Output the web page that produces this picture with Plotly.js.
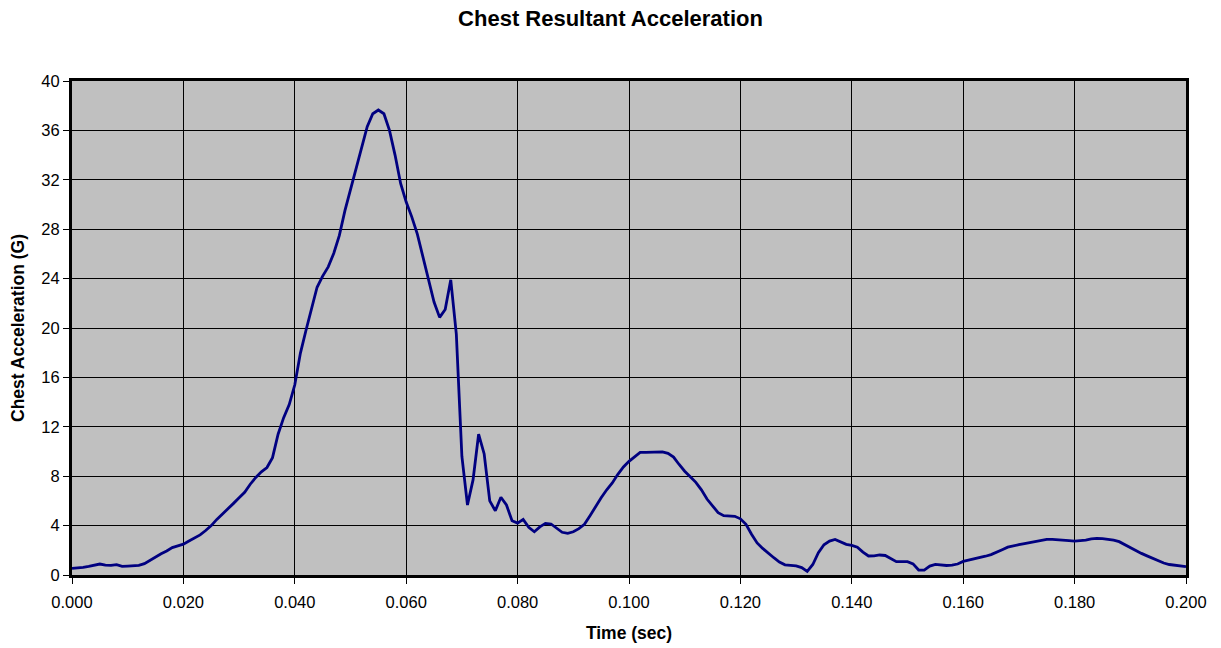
<!DOCTYPE html>
<html>
<head>
<meta charset="utf-8">
<script src="https://cdn.plot.ly/plotly-3.0.1.min.js"></script>
<style>
  html, body { margin: 0; padding: 0; background: #fff; }
  #chart { width: 1221px; height: 648px; }
</style>
</head>
<body>
<div id="chart"></div>
<script>
// Sampling: one reading every millisecond from 0.000 to 0.200 s
const timeStart = 0.0;
const timeStep = 0.001;

// Chest resultant acceleration (G)
const accelG = [
  0.54, 0.56, 0.62, 0.70, 0.80, 0.89, 0.80, 0.78, 0.84, 0.70,
  0.72, 0.76, 0.78, 0.92, 1.20, 1.48, 1.72, 1.95, 2.22, 2.36,
  2.50, 2.75, 2.98, 3.25, 3.60, 4.00, 4.50, 4.92, 5.30, 5.80,
  6.25, 6.70, 7.35, 7.90, 8.35, 8.70, 9.50, 11.40, 12.74, 13.80,
  15.40, 17.95, 19.80, 21.50, 23.30, 24.20, 24.95, 26.05, 27.50, 29.50,
  31.20, 32.80, 34.50, 36.30, 37.35, 37.65, 37.35, 36.00, 34.00, 31.70,
  30.20, 29.00, 27.60, 25.70, 23.80, 22.10, 20.86, 21.50, 23.90, 19.50,
  9.60, 5.67, 7.70, 11.40, 9.80, 6.00, 5.20, 6.30, 5.67, 4.40,
  4.20, 4.50, 3.86, 3.50, 3.90, 4.18, 4.13, 3.80, 3.46, 3.37,
  3.50, 3.75, 4.10, 4.80, 5.55, 6.25, 6.90, 7.45, 8.15, 8.75,
  9.20, 9.60, 9.93, 9.93, 9.95, 10.00, 9.97, 9.85, 9.55, 8.95,
  8.40, 7.95, 7.50, 6.90, 6.15, 5.60, 5.05, 4.80, 4.80, 4.75,
  4.55, 4.10, 3.30, 2.60, 2.15, 1.75, 1.40, 1.05, 0.82, 0.78,
  0.74, 0.60, 0.30, 0.85, 1.80, 2.45, 2.75, 2.88, 2.65, 2.48,
  2.40, 2.25, 1.85, 1.54, 1.55, 1.62, 1.58, 1.30, 1.08, 1.08,
  1.08, 0.90, 0.40, 0.40, 0.72, 0.86, 0.82, 0.77, 0.80, 0.89,
  1.10, 1.20, 1.28, 1.40, 1.52, 1.65, 1.82, 2.05, 2.25, 2.38,
  2.45, 2.55, 2.62, 2.70, 2.80, 2.88, 2.88, 2.83, 2.82, 2.78,
  2.75, 2.78, 2.83, 2.92, 2.97, 2.95, 2.90, 2.82, 2.70, 2.45,
  2.25, 2.00, 1.75, 1.55, 1.35, 1.15, 0.97, 0.85, 0.78, 0.72,
  0.67
];

const timeSec = accelG.map((_, i) => +(timeStart + i * timeStep).toFixed(3));

const xTickVals = [0.000, 0.020, 0.040, 0.060, 0.080, 0.100, 0.120, 0.140, 0.160, 0.180, 0.200];
const xTickText = ["0.000", "0.020", "0.040", "0.060", "0.080", "0.100", "0.120", "0.140", "0.160", "0.180", "0.200"];
const yTickVals = [0, 4, 8, 12, 16, 20, 24, 28, 32, 36, 40];

const FONT = "Liberation Sans, Arial, sans-serif";

const trace = {
  x: timeSec,
  y: accelG,
  type: "scatter",
  mode: "lines",
  line: { color: "#000080", width: 2.8 },
  hoverinfo: "x+y"
};

const layout = {
  width: 1221,
  height: 648,
  paper_bgcolor: "#ffffff",
  plot_bgcolor: "#c0c0c0",
  margin: { l: 72, r: 35, t: 81, b: 73 },
  showlegend: false,
  font: { family: FONT, color: "#000", size: 16.5 },
  title: {
    text: "<b>Chest Resultant Acceleration</b>",
    font: { family: FONT, size: 22, color: "#000" },
    x: 0.5, xanchor: "center",
    y: 0.972, yanchor: "middle"
  },
  xaxis: {
    range: [0, 0.2],
    tickvals: xTickVals,
    ticktext: xTickText,
    ticks: "outside",
    ticklen: 6,
    tickwidth: 1,
    tickcolor: "#000",
    ticklabelstandoff: 4,
    showgrid: true,
    gridcolor: "#000",
    gridwidth: 1,
    zeroline: false,
    showline: true,
    linecolor: "#000",
    linewidth: 3,
    mirror: true,
    tickfont: { family: FONT, size: 16.5, color: "#000" },
    title: {
      text: "<b>Time (sec)</b>",
      font: { family: FONT, size: 17.5, color: "#000" },
      standoff: 17
    }
  },
  yaxis: {
    range: [0, 40],
    tickvals: yTickVals,
    ticks: "outside",
    ticklen: 6,
    tickwidth: 1,
    tickcolor: "#000",
    showgrid: true,
    gridcolor: "#000",
    gridwidth: 1,
    zeroline: false,
    showline: true,
    linecolor: "#000",
    linewidth: 3,
    mirror: true,
    tickfont: { family: FONT, size: 16.5, color: "#000" },
    title: {
      text: "<b>Chest Acceleration (G)</b>",
      font: { family: FONT, size: 17.5, color: "#000" },
      standoff: 13
    }
  }
};

Plotly.newPlot("chart", [trace], layout, { displayModeBar: false, responsive: false });
</script>
</body>
</html>
